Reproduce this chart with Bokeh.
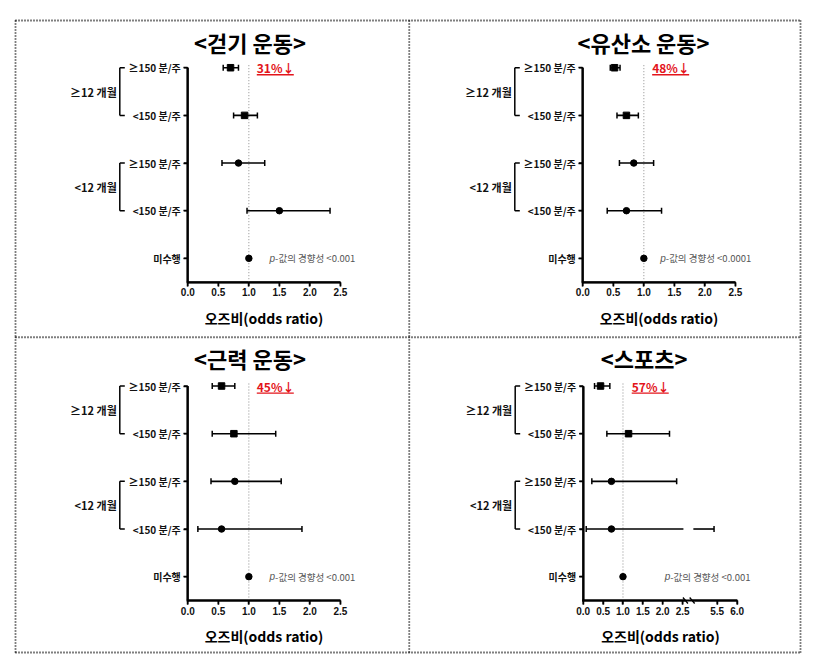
import numpy as np
from bokeh.plotting import figure
from bokeh.layouts import gridplot
from bokeh.models import Range1d, FixedTicker, Label
from bokeh.core.properties import value
from bokeh.embed import file_html
from bokeh.resources import INLINE

# ---------------- data ----------------
ROW_LABELS = ["≥150 분/주", "<150 분/주", "≥150 분/주", "<150 분/주", "미수행"]
GROUP_LABELS = ["≥12 개월", "<12 개월"]
TITLES = ["<걷기 운동>", "<유산소 운동>", "<근력 운동>", "<스포츠>"]
REDUCTION = ["31%↓", "48%↓", "45%↓", "57%↓"]
P_TREND = ["<0.001", "<0.0001", "<0.001", "<0.001"]
X_LABEL = "오즈비(odds ratio)"
X_TICKS = [0.0, 0.5, 1.0, 1.5, 2.0, 2.5]
X_TICKS_BROKEN = [0.0, 0.5, 1.0, 1.5, 2.0, 2.5, 5.5, 6.0]

walk_or = [0.70, 0.93, 0.83, 1.50, 1.0]
walk_lo = [0.58, 0.75, 0.56, 0.97, None]
walk_hi = [0.83, 1.14, 1.26, 2.33, None]

aero_or = [0.52, 0.715, 0.835, 0.715, 1.0]
aero_lo = [0.45, 0.56, 0.60, 0.40, None]
aero_hi = [0.61, 0.91, 1.16, 1.29, None]

musc_or = [0.553, 0.755, 0.77, 0.553, 1.0]
musc_lo = [0.40, 0.40, 0.38, 0.165, None]
musc_hi = [0.77, 1.44, 1.53, 1.87, None]

sport_or = [0.436, 1.14, 0.71, 0.71, 1.0]
sport_lo = [0.285, 0.595, 0.217, 0.076, None]
sport_hi = [0.67, 2.17, 2.35, 5.42, None]

SERIES = [(walk_or, walk_lo, walk_hi), (aero_or, aero_lo, aero_hi),
          (musc_or, musc_lo, musc_hi), (sport_or, sport_lo, sport_hi)]

# ---------------- layout / style ----------------
KR = "Noto Sans CJK KR"
LAT = "Liberation Sans"
Y_AX = 0.5                  # y value where the x axis sits
PPY = 47.66                 # px per row
BREAK_SHIFT = 2.13          # broken-axis shift for the sports panel
AXIS_GAP = (2.57, 2.74)
CI_GAP = (2.52, 2.77)
RED = "#e3141b"
BORDER_DASH = "1 2"

LAYOUT = [
    dict(W=408, H=336, AX=187.3, AY=281.7, ppx=61.05, tx=249.5, ty=41, red_x=1.13, p_x=1.34, broken=False,
         borders=[((15, 20), (408, 20)), ((15, 20), (15, 336))]),
    dict(W=397, H=336, AX=174.3, AY=281.7, ppx=61.05, tx=235.0, ty=41, red_x=1.136, p_x=1.27, broken=False,
         borders=[((0, 20), (392, 20)), ((392, 20), (392, 336)), ((0.75, 20), (0.75, 336))]),
    dict(W=408, H=319, AX=187.3, AY=264.0, ppx=61.05, tx=249.5, ty=21, red_x=1.13, p_x=1.34, broken=False,
         borders=[((15, 0), (15, 316)), ((15, 0.75), (408, 0.75)), ((15, 316), (408, 316))]),
    dict(W=397, H=319, AX=174.7, AY=264.0, ppx=39.77, tx=235.7, ty=21, red_x=1.22, p_x=2.05, broken=True,
         borders=[((0.75, 0), (0.75, 316)), ((392, 0), (392, 316)), ((0, 0.75), (392, 0.75)),
                  ((0, 316), (392, 316))]),
]


def make_panel(k):
    g = LAYOUT[k]
    orr, lo, hi = SERIES[k]
    W, H, AX, AY, ppx = g["W"], g["H"], g["AX"], g["AY"], g["ppx"]
    broken = g["broken"]

    def tf(v):
        if broken and v > 3.0:
            return v - BREAK_SHIFT
        return v

    def cx(c):          # canvas px -> data x
        return (c - AX) / ppx

    def cy(c):          # canvas px -> data y
        return Y_AX + (AY - c) / PPY

    p = figure(width=W, height=H, x_range=Range1d(cx(0), cx(W)), y_range=Range1d(cy(H), cy(0)),
               output_backend="svg", toolbar_location=None,
               min_border=0, min_border_left=0, min_border_right=0, min_border_top=0, min_border_bottom=0)
    p.outline_line_color = None
    p.xgrid.visible = False
    p.ygrid.visible = False
    p.background_fill_color = "white"
    p.border_fill_color = "white"

    ys = [len(ROW_LABELS) - i for i in range(len(ROW_LABELS))]
    ticks = X_TICKS_BROKEN if broken else X_TICKS
    tpos = [tf(v) for v in ticks]
    xmax = max(tpos)

    # y axis (drawn at OR = 0)
    ya = p.yaxis[0]
    ya.fixed_location = 0
    ya.ticker = FixedTicker(ticks=ys)
    ya.major_label_overrides = {y: lab for y, lab in zip(ys, ROW_LABELS)}
    ya.bounds = (Y_AX, max(ys))
    ya.axis_line_width = 2
    ya.axis_line_color = "black"
    ya.major_tick_in = 0
    ya.major_tick_out = 4
    ya.major_tick_line_width = 1.5
    ya.minor_tick_line_color = None
    ya.major_label_standoff = 3
    ya.major_label_text_font = KR
    ya.major_label_text_font_size = "10px"
    ya.major_label_text_font_style = "bold"
    ya.major_label_text_color = "#111111"

    # x axis (drawn at the bottom of the rows)
    xa = p.xaxis[0]
    xa.fixed_location = Y_AX
    xa.ticker = FixedTicker(ticks=tpos)
    xa.major_label_overrides = {tp: f"{v:.1f}" for tp, v in zip(tpos, ticks)}
    xa.bounds = (0, xmax)
    xa.axis_line_width = 2
    xa.axis_line_color = "black"
    xa.major_tick_in = 0
    xa.major_tick_out = 4
    xa.major_tick_line_width = 1.5
    xa.minor_tick_line_color = None
    xa.major_label_standoff = 2
    xa.major_label_text_font = LAT
    xa.major_label_text_font_size = "10px"
    xa.major_label_text_font_style = "bold"
    xa.major_label_text_color = "#111111"
    xa.axis_label = X_LABEL
    xa.axis_label_text_font = KR
    xa.axis_label_text_font_size = "14px"
    xa.axis_label_text_font_style = "bold"
    xa.axis_label_text_color = "black"
    xa.axis_label_standoff = 8

    # axis rules and tick marks (drawn as glyphs so they always show)
    hx, hy = 1 / ppx, 1 / PPY
    if broken:
        rx0, rx1 = [-hx, AXIS_GAP[1]], [AXIS_GAP[0], xmax]
    else:
        rx0, rx1 = [-hx], [xmax]
    p.segment(x0=rx0, y0=[Y_AX] * len(rx0), x1=rx1, y1=[Y_AX] * len(rx0), line_color="black", line_width=2)
    p.segment(x0=[0], y0=[Y_AX - hy], x1=[0], y1=[max(ys)], line_color="black", line_width=2)
    p.segment(x0=[0] * len(ys), y0=ys, x1=[-4 * hx] * len(ys), y1=ys, line_color="black", line_width=1.5)
    p.segment(x0=tpos, y0=[Y_AX] * len(tpos), x1=tpos, y1=[Y_AX - 4 * hy] * len(tpos),
              line_color="black", line_width=1.5)
    if broken:
        p.segment(x0=[xc - 2.5 * hx for xc in AXIS_GAP], y0=[Y_AX + 3 * hy] * 2,
                  x1=[xc + 2.5 * hx for xc in AXIS_GAP], y1=[Y_AX - 3 * hy] * 2,
                  line_color="black", line_width=1.3)

    # title
    p.add_layout(Label(x=cx(g["tx"]), y=cy(g["ty"]), text=TITLES[k], text_font=KR, text_font_size="22px",
                       text_font_style="bold", text_color="black", text_align="center",
                       text_baseline="middle"))

    # reference line at OR = 1
    p.segment(x0=[tf(1.0)], y0=[Y_AX], x1=[tf(1.0)], y1=[max(ys) + 0.08],
              line_color="#8c8c8c", line_width=1, line_dash=value("1 2"))

    # error bars
    seg_x0, seg_x1, seg_y, cap_x, cap_y = [], [], [], [], []
    for i in range(len(orr)):
        if lo[i] is None:
            continue
        a, b = tf(lo[i]), tf(hi[i])
        if broken and hi[i] > 3.0:
            seg_x0 += [a, CI_GAP[1]]
            seg_x1 += [CI_GAP[0], b]
            seg_y += [ys[i], ys[i]]
        else:
            seg_x0.append(a)
            seg_x1.append(b)
            seg_y.append(ys[i])
        cap_x += [a, b]
        cap_y += [ys[i], ys[i]]
    p.segment(x0=seg_x0, y0=seg_y, x1=seg_x1, y1=seg_y, line_color="black", line_width=1.6)
    p.scatter(cap_x, cap_y, marker="dash", angle=np.pi / 2, size=6, line_color="black", line_width=1.5)

    # points: squares for the >=12 months rows, circles for the rest
    sq = [0, 1]
    ci = [2, 3, 4]
    p.scatter([tf(orr[i]) for i in sq], [ys[i] for i in sq], marker="square", size=6.5,
              fill_color="black", line_color="black")
    p.scatter([tf(orr[i]) for i in ci], [ys[i] for i in ci], marker="circle", size=6.5,
              fill_color="black", line_color="black")

    # reduction label (red, underlined)
    p.add_layout(Label(x=g["red_x"], y=ys[0], text=REDUCTION[k], text_font=KR, text_font_size="12px",
                       text_font_style="bold", text_color=RED, text_baseline="middle",
                       text_align="left"))
    p.segment(x0=[g["red_x"]], y0=[ys[0] - 7 * hy], x1=[g["red_x"] + 37 * hx], y1=[ys[0] - 7 * hy],
              line_color=RED, line_width=1.3)

    # p for trend
    p.add_layout(Label(x=g["p_x"], y=ys[4], text="p", text_font=LAT, text_font_size="10px",
                       text_font_style="italic", text_color="#555555", text_baseline="middle"))
    p.add_layout(Label(x=g["p_x"], y=ys[4], x_offset=5.5, text="-값의 경향성 " + P_TREND[k], text_font=KR,
                       text_font_size="9.5px", text_color="#555555", text_baseline="middle"))

    # group brackets and labels
    bx0, by0, bx1, by1 = [], [], [], []
    for gi, glab in enumerate(GROUP_LABELS):
        ytop, ybot = ys[2 * gi], ys[2 * gi + 1]
        xv = -68 * hx
        xt = -63 * hx
        for (a0, b0, a1, b1) in [(xv, ytop, xv, ybot), (xv, ytop, xt, ytop), (xv, ybot, xt, ybot)]:
            bx0.append(a0); by0.append(b0); bx1.append(a1); by1.append(b1)
        p.add_layout(Label(x=-71 * hx, y=(ytop + ybot) / 2, text=glab, text_font=KR,
                           text_font_size="11px", text_font_style="bold", text_color="#111111",
                           text_align="right", text_baseline="middle"))
    p.segment(x0=bx0, y0=by0, x1=bx1, y1=by1, line_color="black", line_width=1.5)

    # dotted panel borders
    p.segment(x0=[cx(a[0]) for a, b in g["borders"]], y0=[cy(a[1]) for a, b in g["borders"]],
              x1=[cx(b[0]) for a, b in g["borders"]], y1=[cy(b[1]) for a, b in g["borders"]],
              line_color="black", line_width=1.8, line_dash=value(BORDER_DASH), level="overlay")
    return p


panels = [make_panel(k) for k in range(4)]
grid = gridplot([[panels[0], panels[1]], [panels[2], panels[3]]], toolbar_location=None)
open("out.html", "w").write(file_html(grid, INLINE))
